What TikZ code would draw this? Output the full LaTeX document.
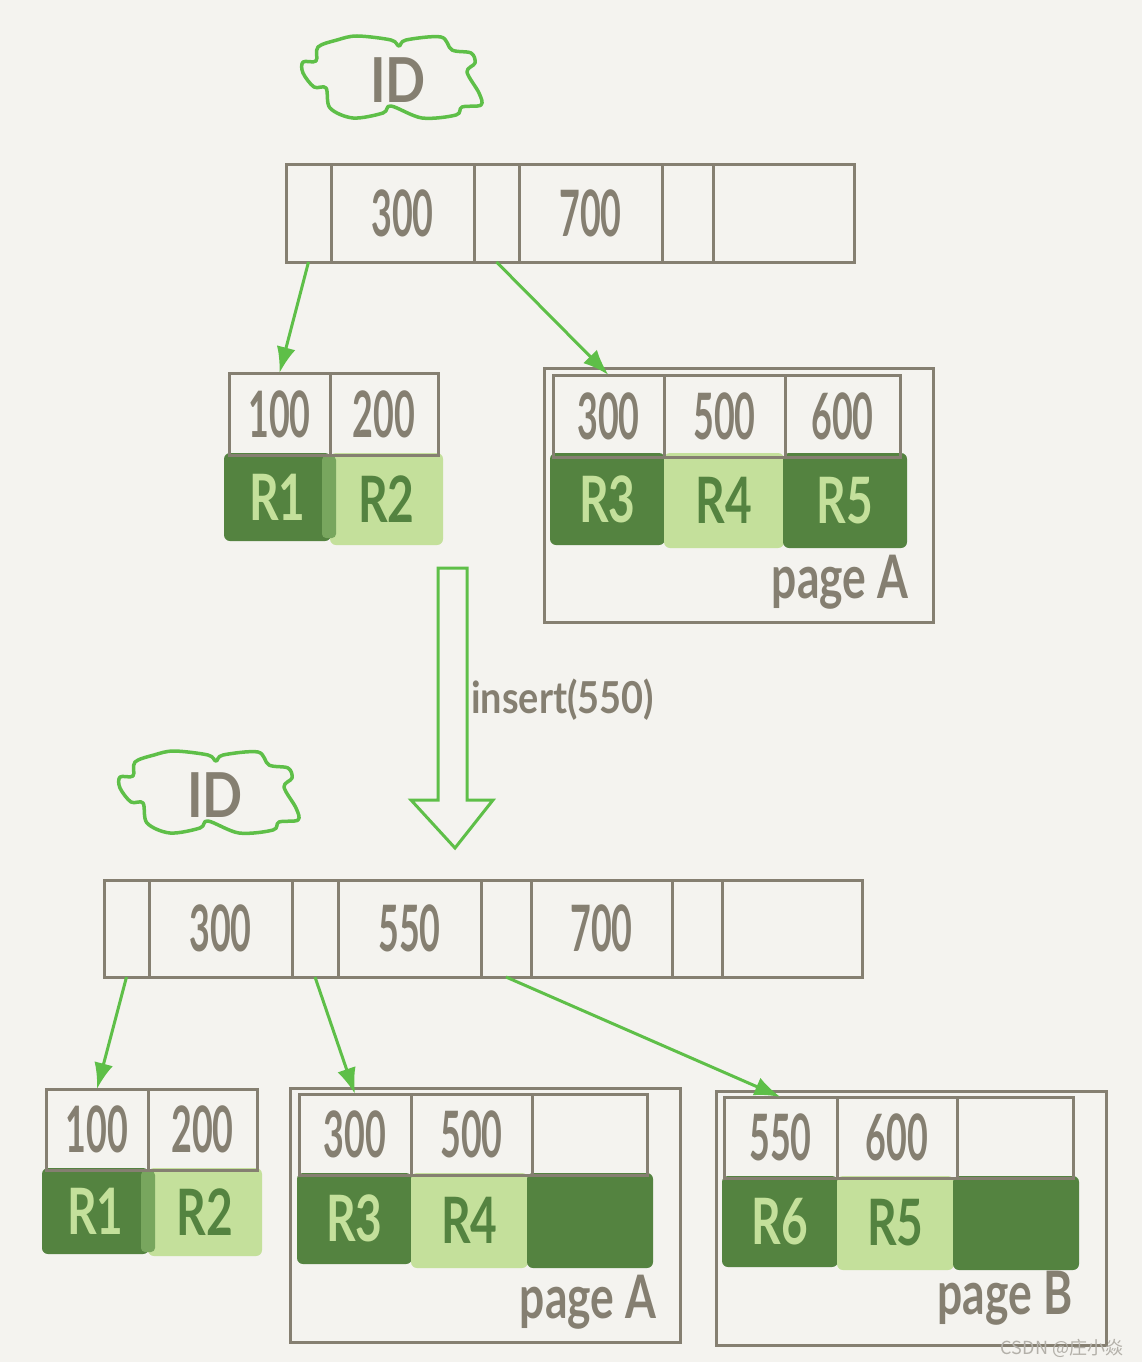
\documentclass[tikz,border=0pt]{standalone}
\usepackage{fontspec}
\setmainfont{Lato}
\newfontfamily\cjkfont{Noto Sans CJK SC}
\usetikzlibrary{arrows.meta}
\definecolor{bgc}{HTML}{F4F3EF}
\definecolor{ink}{HTML}{857F71}
\definecolor{dkg}{HTML}{548340}
\definecolor{ltg}{HTML}{C4E09B}
\definecolor{mdg}{HTML}{78A65E}
\definecolor{arg}{HTML}{5EBF48}
\definecolor{wmk}{HTML}{B3B0A9}
\newcommand\hwk[1]{\raisebox{-7pt}{\scalebox{0.56}[1]{#1}}}
\newcommand\hwr[1]{\scalebox{0.72}[1]{#1}}
\newcommand\cloudpath{plot[smooth cycle, tension=0.55] coordinates {
  (-88,-16) (-75,-17) (-73,-31) (-54,-38) (-34,-42) (0,-38) (8,-32) (15,-38)
  (50,-41) (61,-28) (80,-25) (84,-15) (76,-6) (88,15) (90,27) (71,29) (65,37)
  (31,40) (0,28) (-8,35) (-38,40) (-61,30) (-65,10) (-77,9) (-88,-5)}}
\tikzset{
  keyst/.style={draw=ink, line width=3pt, rectangle, inner sep=0pt, outer sep=0pt,
    text=ink, font=\fontsize{64}{64}\selectfont\bfseries},
  darkrec/.style={fill=dkg, rectangle, rounded corners=6pt, inner sep=0pt, outer sep=0pt,
    text=ltg, font=\fontsize{64}{64}\selectfont\bfseries},
  lightrec/.style={fill=ltg, rectangle, rounded corners=6pt, inner sep=0pt, outer sep=0pt,
    text=dkg, font=\fontsize{64}{64}\selectfont\bfseries},
  pagest/.style={draw=ink, line width=3pt, rectangle, inner sep=0pt, outer sep=0pt},
  pagelbl/.style={text=ink, font=\fontsize{60}{60}\selectfont\bfseries, inner sep=0pt},
  garrow/.style={draw=arg, line width=3pt, -{Latex[length=26pt,width=19pt]}},
  idtext/.style={text=ink, inner sep=0pt, font=\fontsize{62}{62}\selectfont\bfseries},
  cloudline/.style={draw=arg, line width=3.5pt, line join=round}
}
% name, x1, y1, x2, y2, text
\newcommand\kcell[6]{\node[keyst, minimum width={#4-#2}, minimum height={#5-#3}] (#1) at ({(#2+#4)/2},{(#3+#5)/2}) {#6};}
% name, x1, y1, x2, y2, style, text
\newcommand\rcell[7]{\node[#6, minimum width={#4-#2}, minimum height={#5-#3}] (#1) at ({(#2+#4)/2},{(#3+#5)/2}) {#7};}
\begin{document}
\begin{tikzpicture}[x=1pt,y=-1pt]
\fill[bgc] (0,0) rectangle (1142,1362);
\useasboundingbox (0,0) rectangle (1142,1362);

% ---------- top half ----------
\node[idtext] (idA) at (398,80) {\scalebox{0.85}[1]{ID}};
\draw[cloudline, shift={(391,78)}] \cloudpath;

\kcell{ra0}{286}{164}{331}{262}{}
\kcell{ra1}{331}{164}{474}{262}{\hwk{300}}
\kcell{ra2}{474}{164}{519}{262}{}
\kcell{ra3}{519}{164}{662}{262}{\hwk{700}}
\kcell{ra4}{662}{164}{713}{262}{}
\kcell{ra5}{713}{164}{854}{262}{}

% left leaf
\rcell{laR1}{224}{453}{331}{541}{darkrec}{\hwr{R1}}
\rcell{laR2}{330}{453}{443}{545}{lightrec}{\hwr{R2}}
\fill[mdg, rounded corners=4pt] (322,456) rectangle (336,538);
\kcell{la1}{229}{373}{330}{455}{\hwk{100}}
\kcell{la2}{330}{373}{438}{455}{\hwk{200}}

% page A (top)
\node[pagest, minimum width=389, minimum height=254] (pgA) at (738.5,495) {};
\rcell{paR3}{550}{453}{665}{545}{darkrec}{\hwr{R3}}
\rcell{paR4}{664}{453}{784}{548}{lightrec}{\hwr{R4}}
\rcell{paR5}{783}{453}{907}{548}{darkrec}{\hwr{R5}}
\kcell{pa1}{553}{375}{664}{457}{\hwk{300}}
\kcell{pa2}{664}{375}{785}{457}{\hwk{500}}
\kcell{pa3}{785}{375}{900}{457}{\hwk{600}}
\node[pagelbl] (lblA) at (840,582) {\scalebox{0.74}[1]{page A}};

\draw[garrow] (ra0.south) -- (la1.north);
\draw[garrow] (ra2.south) -- (pa1.north);

% ---------- insert arrow ----------
\draw[draw=arg, line width=3pt, line join=miter]
  (438,568) -- (467,568) -- (467,800) -- (493,800) -- (455,848) -- (411,800) -- (438,800) -- cycle;
\node[text=ink, font=\fontsize{44}{44}\selectfont\bfseries, anchor=west, inner sep=0pt] (ins) at (471,700) {\scalebox{0.86}[1]{insert(550)}};

% ---------- bottom half ----------
\node[idtext] (idB) at (215,795) {\scalebox{0.85}[1]{ID}};
\draw[cloudline, shift={(208,793)}] \cloudpath;

\kcell{rb0}{104}{880}{149}{977}{}
\kcell{rb1}{149}{880}{292}{977}{\hwk{300}}
\kcell{rb2}{292}{880}{338}{977}{}
\kcell{rb3}{338}{880}{481}{977}{\hwk{550}}
\kcell{rb4}{481}{880}{531}{977}{}
\kcell{rb5}{531}{880}{672}{977}{\hwk{700}}
\kcell{rb6}{672}{880}{722}{977}{}
\kcell{rb7}{722}{880}{862}{977}{}

% left leaf
\rcell{lbR1}{42}{1168}{149}{1254}{darkrec}{\hwr{R1}}
\rcell{lbR2}{148}{1168}{262}{1256}{lightrec}{\hwr{R2}}
\fill[mdg, rounded corners=4pt] (141,1171) rectangle (155,1252);
\kcell{lb1}{46}{1089}{148}{1170}{\hwk{100}}
\kcell{lb2}{148}{1089}{257}{1170}{\hwk{200}}

% page A (bottom)
\node[pagest, minimum width=390, minimum height=254] (pgAb) at (485,1215) {};
\rcell{pbR3}{297}{1173}{412}{1264}{darkrec}{\hwr{R3}}
\rcell{pbR4}{411}{1173}{528}{1268}{lightrec}{\hwr{R4}}
\rcell{pbR0}{527}{1173}{653}{1268}{darkrec}{}
\kcell{pb1}{299}{1094}{411}{1175}{\hwk{300}}
\kcell{pb2}{411}{1094}{532}{1175}{\hwk{500}}
\kcell{pb3}{532}{1094}{647}{1175}{}
\node[pagelbl] (lblAb) at (588,1302) {\scalebox{0.74}[1]{page A}};

% page B
\node[pagest, minimum width=390, minimum height=254] (pgB) at (911,1218) {};
\rcell{qbR6}{722}{1176}{838}{1267}{darkrec}{\hwr{R6}}
\rcell{qbR5}{837}{1176}{954}{1270}{lightrec}{\hwr{R5}}
\rcell{qbR0}{953}{1176}{1079}{1270}{darkrec}{}
\kcell{qb1}{724}{1097}{837}{1178}{\hwk{550}}
\kcell{qb2}{837}{1097}{957}{1178}{\hwk{600}}
\kcell{qb3}{957}{1097}{1073}{1178}{}
\node[pagelbl] (lblB) at (1005,1298) {\scalebox{0.74}[1]{page B}};

\draw[garrow] (rb0.south) -- (lb1.north);
\draw[garrow] (rb2.south) -- (pb1.north);
\draw[garrow] (rb4.south) -- (qb1.north);

% watermark
\node[text=wmk, font=\cjkfont\fontsize{18}{18}\selectfont, inner sep=0pt] (wm) at (1062,1348) {CSDN @庄小焱};
\end{tikzpicture}
\end{document}
